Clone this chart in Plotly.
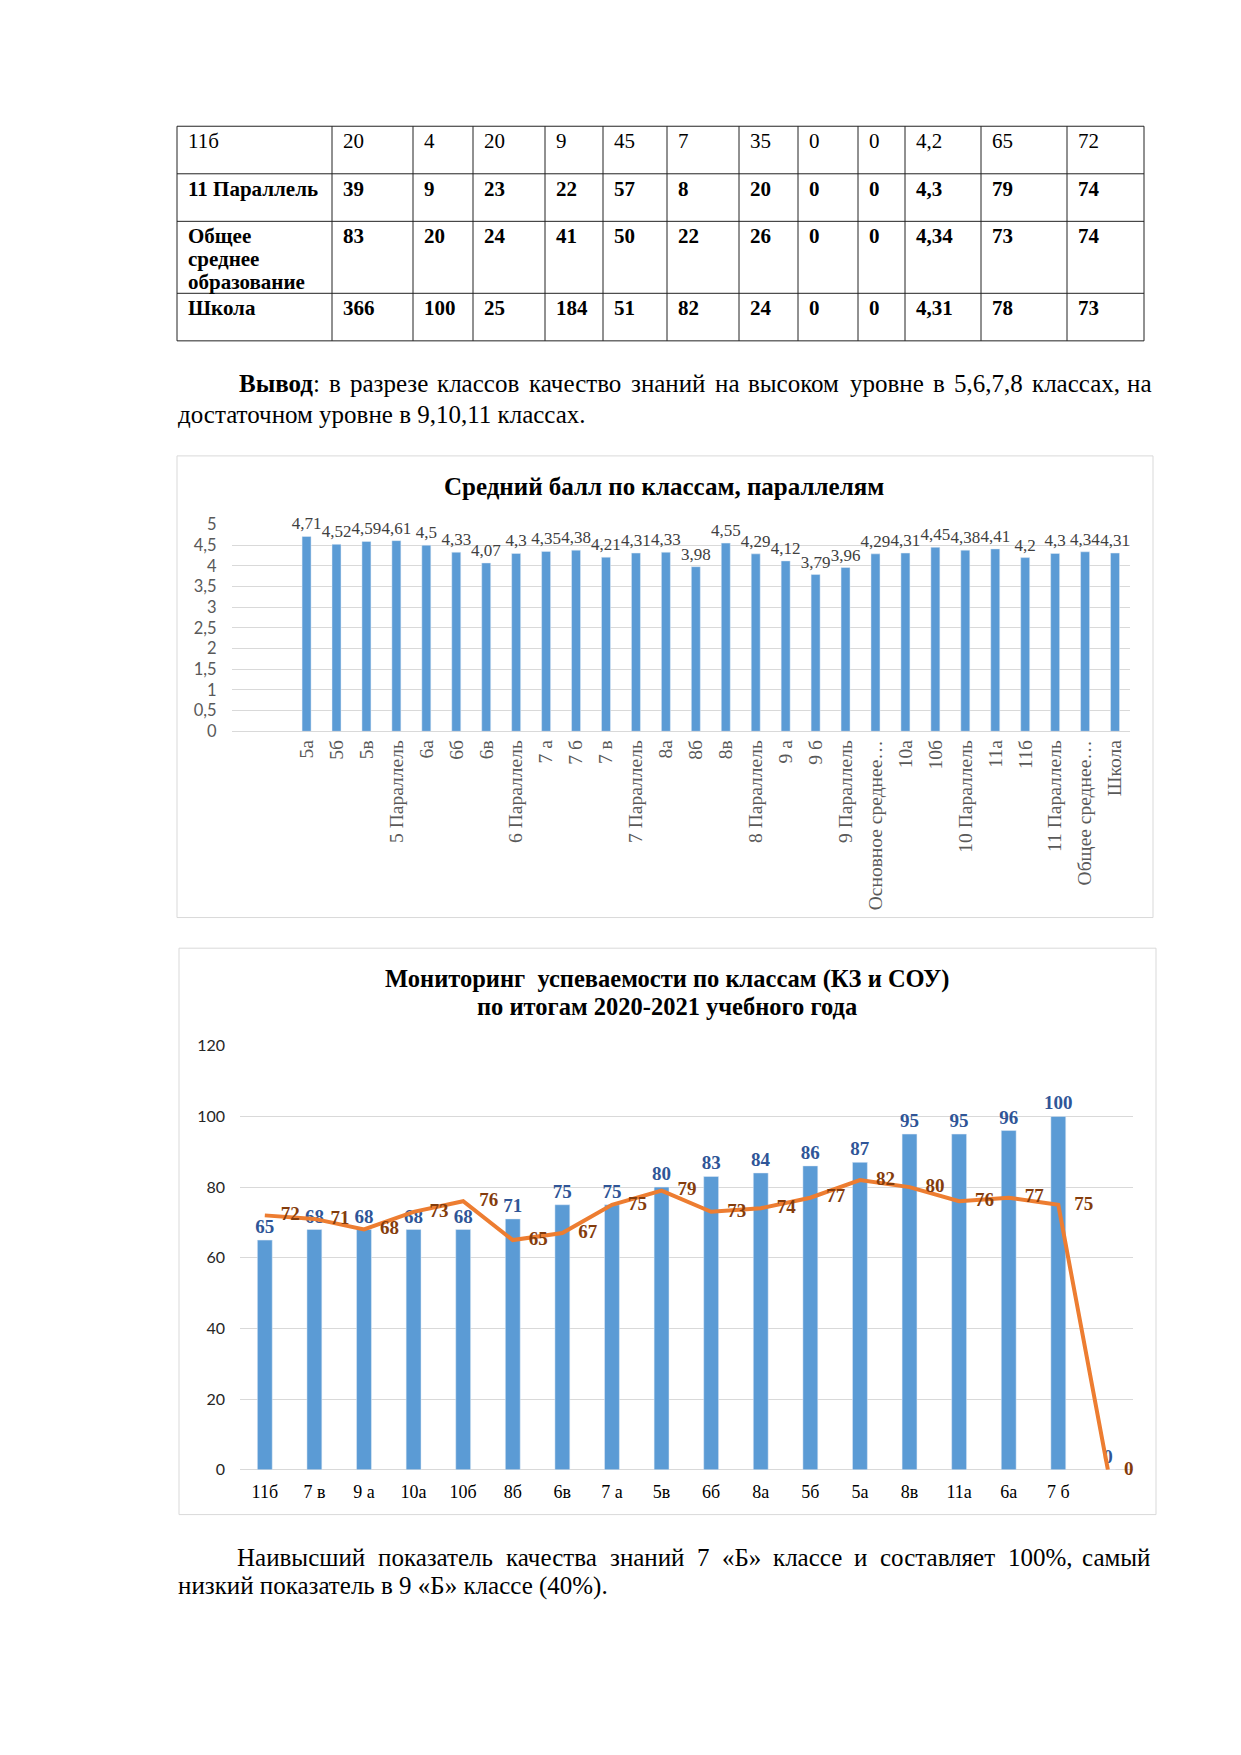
import plotly.graph_objects as go

PAGE_W, PAGE_H = 1241, 1755
MARGIN = 8                      # default body margin of the html page
FW, FH = PAGE_W - 2 * MARGIN, PAGE_H - 2 * MARGIN
SERIF = "Liberation Serif, Times New Roman, serif"
SANS = "Lato, Carlito, Open Sans, sans-serif"

# ---------------- data ----------------
table_labels = ["11б", "11 Параллель", "Общее|среднее|образование", "Школа"]
table_row1 = ["20", "4", "20", "9", "45", "7", "35", "0", "0", "4,2", "65", "72"]
table_row2 = ["39", "9", "23", "22", "57", "8", "20", "0", "0", "4,3", "79", "74"]
table_row3 = ["83", "20", "24", "41", "50", "22", "26", "0", "0", "4,34", "73", "74"]
table_row4 = ["366", "100", "25", "184", "51", "82", "24", "0", "0", "4,31", "78", "73"]
table_bold = [False, True, True, True]

c1_title = "Средний балл по классам, параллелям"
c1_categories = ["5а", "5б", "5в", "5 Параллель", "6а", "6б", "6в", "6 Параллель",
                 "7 а", "7 б", "7 в", "7 Параллель", "8а", "8б", "8в", "8 Параллель",
                 "9 а", "9 б", "9 Параллель", "Основное среднее…", "10а", "10б",
                 "10 Параллель", "11а", "11б", "11 Параллель", "Общее среднее…", "Школа"]
c1_values = [4.71, 4.52, 4.59, 4.61, 4.5, 4.33, 4.07, 4.3,
             4.35, 4.38, 4.21, 4.31, 4.33, 3.98, 4.55, 4.29,
             4.12, 3.79, 3.96, 4.29, 4.31, 4.45,
             4.38, 4.41, 4.2, 4.3, 4.34, 4.31]

c2_title = ["Мониторинг  успеваемости по классам (КЗ и СОУ)", "по итогам 2020-2021 учебного года"]
c2_categories = ["11б", "7 в", "9 а", "10а", "10б", "8б", "6в", "7 а", "5в", "6б",
                 "8а", "5б", "5а", "8в", "11а", "6а", "7 б", " "]
c2_kz = [65, 68, 68, 68, 68, 71, 75, 75, 80, 83, 84, 86, 87, 95, 95, 96, 100, 0]
c2_sou = [72, 71, 68, 73, 76, 65, 67, 75, 79, 73, 74, 77, 82, 80, 76, 77, 75, 0]

para1 = ["Вывод: в разрезе классов качество знаний на высоком уровне в 5,6,7,8 классах, на",
         "достаточном уровне в 9,10,11 классах."]
para2 = ["Наивысший показатель качества знаний 7 «Б» классе и составляет 100%, самый",
         "низкий показатель в 9 «Б» классе (40%)."]

# ---------------- helpers (page pixels -> paper fractions) ----------------
def px(x):
    return (x - MARGIN) / FW


def py(y):
    return 1 - (y - MARGIN) / FH


CW = {' ': .25, ',': .25, '.': .25, ':': .278, '%': .833, '«': .5, '»': .5, '(': .333, ')': .333, '-': .333,
      'а': .444, 'б': .5, 'в': .472, 'г': .41, 'д': .5, 'е': .444, 'ж': .691, 'з': .395, 'и': .535,
      'й': .535, 'к': .486, 'л': .499, 'м': .632, 'н': .535, 'о': .5, 'п': .535, 'р': .5, 'с': .444,
      'т': .437, 'у': .5, 'ф': .648, 'х': .5, 'ц': .535, 'ч': .503, 'ш': .77, 'щ': .77, 'ъ': .517,
      'ы': .672, 'ь': .456, 'э': .429, 'ю': .747, 'я': .495,
      'А': .722, 'Б': .556, 'В': .667, 'Г': .578, 'Д': .667, 'Е': .611, 'З': .5, 'И': .722, 'К': .667,
      'Л': .667, 'М': .889, 'Н': .722, 'О': .722, 'П': .722, 'Р': .556, 'С': .667, 'Т': .611, 'У': .657,
      'Ш': .94}


def tw(s, size):
    return sum(CW.get(c, .5) for c in s) * size


annotations = []
shapes = []


def add_text(x, y, text, size, bold=False, color="black", anchor="left", family=SERIF):
    annotations.append(dict(x=px(x), y=py(y), xref="paper", yref="paper", text=text,
                            showarrow=False, xanchor=anchor, yanchor="middle", borderpad=0,
                            font=dict(family=family, size=size, color=color,
                                      weight="bold" if bold else "normal")))


def justified(line, x0, x1, y, size, bold_first=False):
    words = line.split(" ")
    widths = [tw(w, size) * (1.05 if (i == 0 and bold_first) else 1) for i, w in enumerate(words)]
    gap = (x1 - x0 - sum(widths)) / (len(words) - 1)
    x = x0
    for i, w in enumerate(words):
        t = w
        if i == 0 and bold_first and w.endswith(":"):
            t = "<b>" + w[:-1] + "</b>:"
        anchor = "right" if i == len(words) - 1 else "left"
        add_text(x1 if anchor == "right" else x, y, t, size, anchor=anchor)
        x += widths[i] + gap


# ---------------- table ----------------
col_x = [177, 332, 413, 473, 545, 603, 667, 739, 798, 858, 905, 981, 1067, 1144]
row_y = [117.5, 165.6, 213.7, 286.5, 334.6]
for yy in row_y:
    shapes.append(dict(type="line", xref="paper", yref="paper", x0=px(col_x[0]), x1=px(col_x[-1]),
                       y0=py(yy), y1=py(yy), line=dict(color="#222222", width=1)))
for xx in col_x:
    shapes.append(dict(type="line", xref="paper", yref="paper", x0=px(xx), x1=px(xx),
                       y0=py(row_y[0]), y1=py(row_y[-1]), line=dict(color="#222222", width=1)))

table_rows = [table_row1, table_row2, table_row3, table_row4]
TS = 21
for r, (lab, vals) in enumerate(zip(table_labels, table_rows)):
    top = row_y[r]
    b = table_bold[r]
    for k, part in enumerate(lab.split("|")):
        add_text(col_x[0] + 10, top + 15 + 23 * k, part, TS, bold=b)
    for c, v in enumerate(vals):
        add_text(col_x[c + 1] + 10, top + 15, v, TS, bold=b)

# ---------------- paragraphs ----------------
BS = 25
justified(para1[0], 238, 1152, 378, BS, bold_first=True)
add_text(177, 409, para1[1], BS)
justified(para2[0], 236, 1152, 1565, BS)
add_text(177, 1594, para2[1], BS)

# ---------------- chart boxes & titles ----------------
for (x0, y0, x1, y1) in [(177, 451, 1153, 918), (179, 949, 1156, 1522)]:
    shapes.append(dict(type="rect", xref="paper", yref="paper", x0=px(x0), x1=px(x1),
                       y0=py(y1), y1=py(y0), line=dict(color="#D9D9D9", width=1)))

add_text(664, 482, c1_title, 25, bold=True, anchor="center")
add_text(667, 980, c2_title[0], 24.5, bold=True, anchor="center")
add_text(667, 1008, c2_title[1], 24.5, bold=True, anchor="center")

# ---------------- traces ----------------
fig = go.Figure()
fig.add_trace(go.Bar(
    x=c1_categories, y=c1_values, xaxis="x", yaxis="y", width=0.3,
    marker=dict(color="#5B9BD5"),
    text=[("%g" % v).replace(".", ",") for v in c1_values],
    textposition="outside", constraintext="none", cliponaxis=False,
    textfont=dict(family=SERIF, size=17, color="#404040"), hoverinfo="skip"))

fig.add_trace(go.Bar(
    x=c2_categories, y=c2_kz, xaxis="x2", yaxis="y2", width=0.3,
    marker=dict(color="#5B9BD5"),
    text=[str(v) for v in c2_kz], texttemplate="<b>%{text}</b>",
    textposition="outside", constraintext="none", cliponaxis=False,
    textfont=dict(family=SERIF, size=19, color="#2F5597"), hoverinfo="skip"))

fig.add_trace(go.Scatter(
    x=c2_categories, y=c2_sou, xaxis="x2", yaxis="y2",
    mode="lines+markers+text", line=dict(color="#ED7D31", width=4),
    marker=dict(size=24, color="rgba(0,0,0,0)"),
    text=[str(v) for v in c2_sou], texttemplate="<b>%{text}</b>",
    textposition="middle right", cliponaxis=False,
    textfont=dict(family=SERIF, size=19, color="#843C0C"), hoverinfo="skip"))

fig.update_layout(
    width=FW, height=FH, margin=dict(l=0, r=0, t=0, b=0),
    paper_bgcolor="white", plot_bgcolor="white", showlegend=False,
    separators=", ", hovermode=False,
    xaxis=dict(domain=[px(231.7), px(1130)], anchor="y", type="category", range=[-2.5, 27.5],
               tickangle=-90, tickfont=dict(family=SERIF, size=19.5, color="#595959"),
               showgrid=False, showline=False, ticks="", ticklabelstandoff=4),
    yaxis=dict(domain=[py(729.6), py(520.4)], anchor="x", range=[0, 5], dtick=0.5, tick0=0,
               gridcolor="#D9D9D9", gridwidth=1, zeroline=True, zerolinecolor="#D9D9D9",
               zerolinewidth=1, showline=False, ticks="",
               tickfont=dict(family=SANS, size=16.5, color="#595959"), ticklabelstandoff=14),
    xaxis2=dict(domain=[px(240), px(1132.7)], anchor="y2", type="category", range=[-0.5, 17.5],
                tickfont=dict(family=SERIF, size=18, color="#000000"),
                showgrid=False, showline=False, ticks="", ticklabelstandoff=9),
    yaxis2=dict(domain=[py(1476.7), py(1047.7)], anchor="x2", range=[0, 120], dtick=20, tick0=0,
                gridcolor="#D9D9D9", gridwidth=1, zeroline=True, zerolinecolor="#D9D9D9",
                zerolinewidth=1, showline=False, ticks="",
                tickfont=dict(family=SANS, size=16, color="#262626"), ticklabelstandoff=14),
    annotations=annotations, shapes=shapes,
)

fig.write_html("out.html", config={"displayModeBar": False})
